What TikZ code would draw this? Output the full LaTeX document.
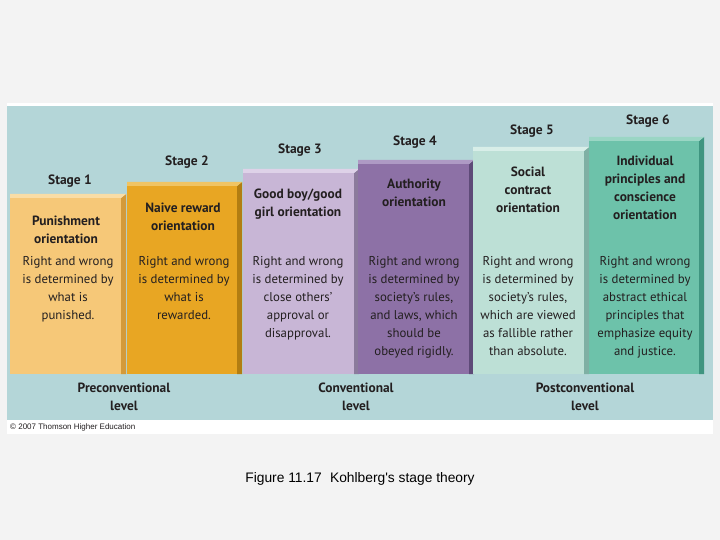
\documentclass[tikz,border=0pt]{standalone}
\usepackage{fontspec}
\setmainfont{PT Sans}
\newfontfamily\capfont{Liberation Sans}
\definecolor{pagebg}{HTML}{F3F3F3}
\definecolor{panel}{HTML}{B4D6D8}
\definecolor{ink}{HTML}{231F20}
\definecolor{fa}{HTML}{F6C878}\definecolor{sa}{HTML}{D49A3A}\definecolor{ta}{HTML}{F9DDA6}
\definecolor{fb}{HTML}{E8A623}\definecolor{sb}{HTML}{B27D12}\definecolor{tb}{HTML}{F0C463}
\definecolor{fc}{HTML}{C8B6D6}\definecolor{sc}{HTML}{8B7B9C}\definecolor{tc}{HTML}{DED2E8}
\definecolor{fd}{HTML}{8D71A6}\definecolor{sd}{HTML}{5E4A78}\definecolor{td}{HTML}{AE9AC4}
\definecolor{fe}{HTML}{BDE0D6}\definecolor{se}{HTML}{7FB0A4}\definecolor{te}{HTML}{D8EEE8}
\definecolor{ff}{HTML}{6DC2AA}\definecolor{sf}{HTML}{3F9580}\definecolor{tf}{HTML}{9AD6C4}
\newcommand{\stagebox}[6]{%
  \fill[#4] (#1,#3) rectangle (#2,374);
  \fill[#5] (#2,#3) -- (#2+5,#3-4) -- (#2+5,374) -- (#2,374) -- cycle;
  \fill[#6] (#1,#3) -- (#1,#3-4) -- (#2+5,#3-4) -- (#2,#3) -- cycle;
}
\tikzset{
  stagelbl/.style={font=\fontsize{13.5}{16}\selectfont\bfseries, text=ink, inner sep=0pt},
  title/.style={font=\fontsize{13.4}{18}\selectfont\bfseries, text=ink, align=center, anchor=north, inner sep=0pt},
  body/.style={font=\fontsize{12.8}{18}\selectfont, text=ink, align=center, anchor=north, inner sep=0pt},
  lvl/.style={font=\fontsize{13.4}{18}\selectfont\bfseries, text=ink, align=center, anchor=north, inner sep=0pt}
}
\begin{document}
\begin{tikzpicture}[x=1pt,y=-1pt]
\useasboundingbox (0,0) rectangle (720,540);
\fill[pagebg] (0,0) rectangle (720,540);
\fill[white] (7,103) rectangle (713,434);
\fill[panel] (7,106) rectangle (713,420);
\stagebox{10}{121}{198}{fa}{sa}{ta}
\stagebox{127}{237}{186}{fb}{sb}{tb}
\stagebox{243}{354}{173}{fc}{sc}{tc}
\stagebox{358}{469}{164}{fd}{sd}{td}
\stagebox{473}{584}{151}{fe}{se}{te}
\stagebox{589}{699}{141}{ff}{sf}{tf}
\node[stagelbl] (s1) at (70,181) {Stage 1};
\node[stagelbl] (s2) at (187,162) {Stage 2};
\node[stagelbl] (s3) at (300,150) {Stage 3};
\node[stagelbl] (s4) at (415,142) {Stage 4};
\node[stagelbl] (s5) at (532,131) {Stage 5};
\node[stagelbl] (s6) at (648,121) {Stage 6};
\node[title] (t1) at (66,216) {Punishment\\orientation};
\node[title] (t2) at (183,203) {Naive reward\\orientation};
\node[title] (t3) at (298,189) {Good boy/good\\girl orientation};
\node[title] (t4) at (414,179) {Authority\\orientation};
\node[title] (t5) at (528,167) {Social\\contract\\orientation};
\node[title] (t6) at (645,156) {Individual\\principles and\\conscience\\orientation};
\node[body] (b1) at (68,256) {Right and wrong\\is determined by\\what is\\punished.};
\node[body] (b2) at (184,256) {Right and wrong\\is determined by\\what is\\rewarded.};
\node[body] (b3) at (298,256) {Right and wrong\\is determined by\\close others'\\approval or\\disapproval.};
\node[body] (b4) at (414,256) {Right and wrong\\is determined by\\society's rules,\\and laws, which\\should be\\obeyed rigidly.};
\node[body] (b5) at (528,256) {Right and wrong\\is determined by\\society's rules,\\which are viewed\\as fallible rather\\than absolute.};
\node[body] (b6) at (645,256) {Right and wrong\\is determined by\\abstract ethical\\principles that\\emphasize equity\\and justice.};
\node[lvl] (l1) at (124,383) {Preconventional\\level};
\node[lvl] (l2) at (356,383) {Conventional\\level};
\node[lvl] (l3) at (585,383) {Postconventional\\level};
\node[anchor=west, inner sep=0pt, text=ink, font=\capfont\fontsize{8}{9}\selectfont] (cr) at (10,427) {\textcopyright{} 2007 Thomson Higher Education};
\node[inner sep=0pt, text=black, font=\capfont\fontsize{13.8}{16}\selectfont] (cap) at (360,479) {Figure 11.17\hspace{0.6em}Kohlberg's stage theory};
\end{tikzpicture}
\end{document}
